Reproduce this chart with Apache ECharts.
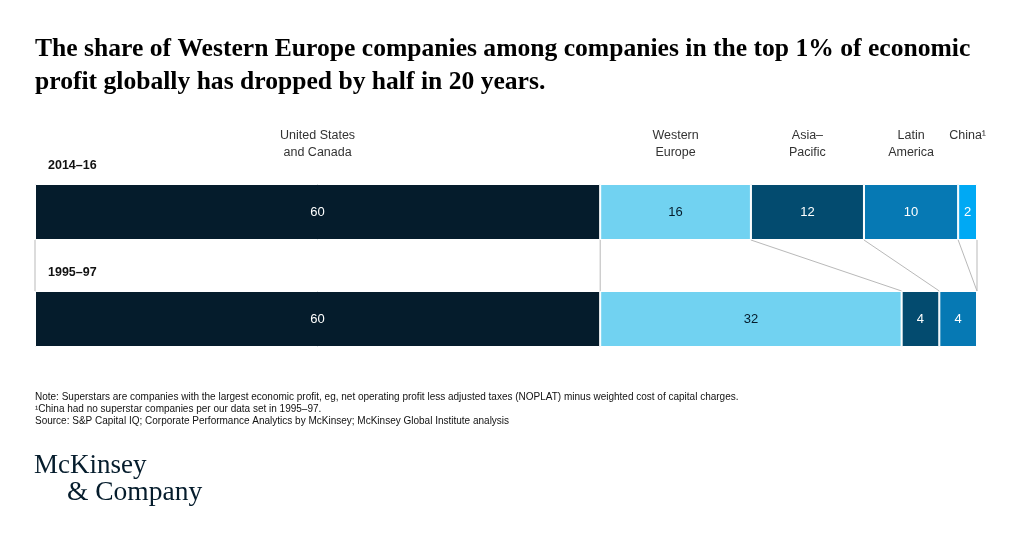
<!DOCTYPE html>
<html>
<head>
<meta charset="utf-8">
<script src="https://cdn.jsdelivr.net/npm/echarts@6/dist/echarts.min.js"></script>
<style>
  html, body { margin: 0; background: #fff; }
  #chart { width: 1024px; height: 535px; }
</style>
</head>
<body>
<div id="chart"></div>
<script>
const periods = ["2014–16", "1995–97"];
const regions = ["United States\nand Canada", "Western\nEurope", "Asia–\nPacific", "Latin\nAmerica", "China¹"];
const share2014 = [60, 16, 12, 10, 2];
const share1995 = [60, 32, 4, 4, 0];

const regionColors = ["#051c2c", "#71d2f1", "#034b6f", "#0679b4", "#00a9f4"];
const labelColors = ["#fff", "#051c2c", "#fff", "#fff", "#fff"];
const BAR_H = 56;
const SANS = "'Liberation Sans', Arial, sans-serif";
const SERIF = "'Liberation Serif', 'Times New Roman', serif";

// running totals, used for the connector lines and header positions
function cumulative(values) {
  let sum = 0;
  return [0].concat(values.map(v => (sum += v)));
}
const cumTop = cumulative(share2014);
const cumBottom = cumulative(share1995);

const barSeries = regions.map((name, i) => ({
  name: name,
  type: "bar",
  stack: "total",
  barWidth: BAR_H,
  data: [share2014[i], share1995[i]],
  itemStyle: { color: regionColors[i], borderColor: "#fff", borderWidth: 1 },
  label: {
    show: true,
    position: "inside",
    color: labelColors[i],
    fontFamily: SANS,
    fontSize: 13,
    formatter: p => (p.value ? p.value : "")
  },
  emphasis: { disabled: true },
  z: 2
}));

const connectorSeries = {
  type: "custom",
  silent: true,
  z: 1,
  encode: { x: 0, y: 2 },
  data: cumTop.map((v, i) => [v, cumBottom[i], 0]),
  renderItem(params, api) {
    const a = api.coord([api.value(0), 0]);
    const b = api.coord([api.value(1), 1]);
    return {
      type: "line",
      shape: { x1: a[0], y1: a[1] + BAR_H / 2, x2: b[0], y2: b[1] - BAR_H / 2 },
      style: { stroke: "#b9b9b9", lineWidth: 1 }
    };
  }
};

const headerSeries = {
  type: "custom",
  silent: true,
  encode: { x: 0, y: 1 },
  data: share2014.map((v, i) => [cumTop[i] + v / 2, 0, i]),
  renderItem(params, api) {
    const p = api.coord([api.value(0), 0]);
    return {
      type: "text",
      x: p[0],
      y: p[1] - BAR_H / 2 - 57,
      style: {
        text: regions[api.value(2)],
        align: "center",
        verticalAlign: "top",
        fill: "#333",
        fontFamily: SANS,
        fontSize: 12.5,
        lineHeight: 17
      }
    };
  }
};

const rowLabelSeries = {
  type: "custom",
  silent: true,
  encode: { x: 0, y: 1 },
  data: periods.map((p, i) => [0, i]),
  renderItem(params, api) {
    const p = api.coord([0, api.value(1)]);
    return {
      type: "text",
      x: p[0] + 13,
      y: p[1] - BAR_H / 2 - 18.5,
      style: {
        text: periods[api.value(1)],
        align: "left",
        verticalAlign: "middle",
        fill: "#111",
        fontFamily: SANS,
        fontWeight: "bold",
        fontSize: 12.5
      }
    };
  }
};

const notes = [
  "Note: Superstars are companies with the largest economic profit, eg, net operating profit less adjusted taxes (NOPLAT) minus weighted cost of capital charges.",
  "¹China had no superstar companies per our data set in 1995–97.",
  "Source: S&P Capital IQ; Corporate Performance Analytics by McKinsey; McKinsey Global Institute analysis"
];

const chart = echarts.init(document.getElementById("chart"), null, { renderer: "canvas" });
chart.setOption({
  animation: false,
  backgroundColor: "#fff",
  title: {
    text: "The share of Western Europe companies among companies in the top 1% of economic\nprofit globally has dropped by half in 20 years.",
    left: 35,
    top: 33,
    padding: 0,
    textStyle: { fontFamily: SERIF, fontWeight: "bold", fontSize: 25.6, lineHeight: 33, color: "#000" }
  },
  grid: { left: 35, right: 47, top: 158.5, bottom: 162.5 },
  xAxis: { type: "value", min: 0, max: 100, show: false },
  yAxis: { type: "category", data: periods, inverse: true, show: false },
  series: barSeries.concat([connectorSeries, headerSeries, rowLabelSeries]),
  graphic: [
    {
      type: "text",
      left: 35,
      top: 391,
      style: {
        text: notes.join("\n"),
        fill: "#111",
        fontFamily: SANS,
        fontSize: 10,
        lineHeight: 12
      }
    },
    {
      type: "text",
      left: 34,
      top: 452,
      style: { text: "McKinsey", fill: "#051c2c", fontFamily: SERIF, fontSize: 27 }
    },
    {
      type: "text",
      left: 67,
      top: 479,
      style: { text: "& Company", fill: "#051c2c", fontFamily: SERIF, fontSize: 27.5 }
    }
  ]
});
</script>
</body>
</html>
